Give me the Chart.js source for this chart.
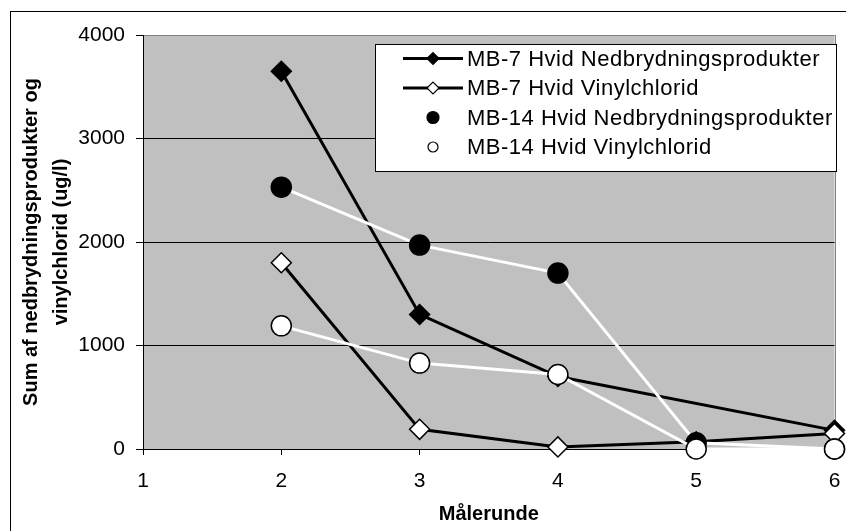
<!DOCTYPE html>
<html>
<head>
<meta charset="utf-8">
<script src="https://cdn.jsdelivr.net/npm/chart.js@4/dist/chart.umd.min.js"></script>
<style>
  html, body { margin: 0; padding: 0; background: #fff; }
  #wrap { width: 846px; height: 531px; position: relative; }
</style>
</head>
<body>
<div id="wrap"><canvas id="c" width="846" height="531"></canvas></div>
<script>
// ---- data ----
const rounds = [2, 3, 4, 5, 6];
const mb7Nedbryd = [3650, 1300, 700, null, 180];
const mb7Vinyl = [1800, 190, 20, 70, 150];
const mb14Nedbryd = [2530, 1970, 1700, 60, 0];
const mb14Vinyl = [1190, 830, 720, 0, 0];
const seriesLabels = [
  'MB-7 Hvid Nedbrydningsprodukter',
  'MB-7 Hvid Vinylchlorid',
  'MB-14 Hvid Nedbrydningsprodukter',
  'MB-14 Hvid Vinylchlorid'
];
const xTitle = 'Målerunde';
const yTitle = ['Sum af nedbrydningsprodukter og', 'vinylchlorid (ug/l)'];
const xRange = [1, 6];
const yRange = [0, 4000];

const FONT = "'Liberation Sans', Arial, sans-serif";

function pts(vals) { return rounds.map((r, i) => ({ x: r, y: vals[i] })); }

const styles = [
  { line: '#000', shape: 'rectRot', fill: '#000', r: 10, order: 4 },
  { line: '#000', shape: 'rectRot', fill: '#fff', r: 10, order: 3 },
  { line: '#fff', shape: 'circle', fill: '#000', r: 10, order: 2 },
  { line: '#fff', shape: 'circle', fill: '#fff', r: 10, order: 1 }
];
const seriesValues = [mb7Nedbryd, mb7Vinyl, mb14Nedbryd, mb14Vinyl];

const datasets = seriesValues.map((vals, i) => ({
  label: seriesLabels[i],
  data: pts(vals),
  borderColor: styles[i].line,
  borderWidth: 3,
  showLine: true,
  spanGaps: true,
  tension: 0,
  pointStyle: styles[i].shape,
  pointRadius: styles[i].r,
  pointHoverRadius: styles[i].r,
  pointBackgroundColor: styles[i].fill,
  pointBorderColor: '#000',
  pointBorderWidth: 1.5,
  order: styles[i].order,
  clip: false
}));

const frameAndBg = {
  id: 'frameAndBg',
  beforeDraw(chart) {
    const { ctx, chartArea: a } = chart;
    ctx.save();
    ctx.fillStyle = '#fff';
    ctx.fillRect(0, 0, chart.width, chart.height);
    ctx.strokeStyle = '#000';
    ctx.lineWidth = 1;
    ctx.strokeRect(10.5, 11.5, chart.width + 20, chart.height + 20);
    ctx.fillStyle = '#c0c0c0';
    ctx.fillRect(a.left, a.top, a.right - a.left, a.bottom - a.top);
    ctx.restore();
  },
  beforeDatasetsDraw(chart) {
    const { ctx, chartArea: a } = chart;
    ctx.save();
    ctx.strokeStyle = '#808080';
    ctx.lineWidth = 1;
    ctx.beginPath();
    ctx.moveTo(Math.round(a.right) + 0.5, a.top);
    ctx.lineTo(Math.round(a.right) + 0.5, a.bottom);
    ctx.stroke();
    ctx.restore();
  }
};

const boxLegend = {
  id: 'boxLegend',
  afterDraw(chart) {
    const { ctx } = chart;
    const box = { l: 375.5, t: 44.5, r: 836.5, b: 171.5 };
    ctx.save();
    ctx.fillStyle = '#fff';
    ctx.fillRect(box.l, box.t, box.r - box.l, box.b - box.t);
    ctx.strokeStyle = '#000';
    ctx.lineWidth = 1;
    ctx.strokeRect(box.l, box.t, box.r - box.l, box.b - box.t);
    const rowY = [58.5, 88, 117.5, 147];
    chart.data.datasets.forEach((ds, i) => {
      const y = rowY[i];
      const st = styles[i];
      const mx = 433;
      if (i < 2) {
        ctx.strokeStyle = '#000';
        ctx.lineWidth = 3;
        ctx.beginPath();
        ctx.moveTo(403, y);
        ctx.lineTo(463, y);
        ctx.stroke();
        ctx.beginPath();
        const r = 6;
        ctx.moveTo(mx - r, y); ctx.lineTo(mx, y - r); ctx.lineTo(mx + r, y); ctx.lineTo(mx, y + r);
        ctx.closePath();
        ctx.fillStyle = st.fill; ctx.fill();
        ctx.lineWidth = 1.2; ctx.strokeStyle = '#000'; ctx.stroke();
      } else {
        ctx.beginPath();
        ctx.arc(mx, y, i === 2 ? 6 : 5, 0, Math.PI * 2);
        ctx.fillStyle = st.fill; ctx.fill();
        ctx.lineWidth = 1.2; ctx.strokeStyle = '#000'; ctx.stroke();
      }
      ctx.fillStyle = '#000';
      ctx.font = '22px ' + FONT;
      ctx.letterSpacing = '0.5px';
      ctx.textAlign = 'left';
      ctx.textBaseline = 'middle';
      ctx.fillText(ds.label, 467, y + 1);
    });
    ctx.restore();
  }
};

new Chart(document.getElementById('c'), {
  type: 'line',
  data: { datasets },
  options: {
    responsive: false,
    devicePixelRatio: 1,
    animation: false,
    events: [],
    layout: { padding: { left: 0, top: 35, right: 8, bottom: 0 } },
    plugins: { legend: { display: false }, tooltip: { enabled: false } },
    scales: {
      x: {
        type: 'linear',
        position: 'bottom',
        min: xRange[0], max: xRange[1],
        ticks: { stepSize: 1, color: '#000', font: { family: FONT, size: 21 }, padding: 14 },
        grid: { drawOnChartArea: false, drawTicks: true, tickLength: 6, color: '#000', tickColor: '#000' },
        border: { color: '#000', width: 1 },
        title: { display: true, text: xTitle, color: '#000', font: { family: FONT, size: 20, weight: 'bold' }, padding: { top: 0, bottom: 5 } },
        afterFit(s) { s.height = 82; s.paddingLeft = 0; s.paddingRight = 0; }
      },
      y: {
        type: 'linear',
        min: yRange[0], max: yRange[1],
        ticks: { stepSize: 1000, color: '#000', font: { family: FONT, size: 21 }, padding: 11, callback: (v) => String(v) },
        grid: {
          color: (c) => (c.tick && c.tick.value === yRange[1]) ? '#808080' : '#000',
          tickColor: '#000', tickLength: 7, drawTicks: true
        },
        border: { color: '#000', width: 1 },
        title: { display: true, text: yTitle, color: '#000', font: { family: FONT, size: 20, weight: 'bold', lineHeight: 1.5 }, padding: { top: 16.5, bottom: 0 } },
        afterFit(s) { s.width = 143; s.paddingTop = 0; s.paddingBottom = 0; }
      }
    }
  },
  plugins: [frameAndBg, boxLegend]
});
</script>
</body>
</html>
